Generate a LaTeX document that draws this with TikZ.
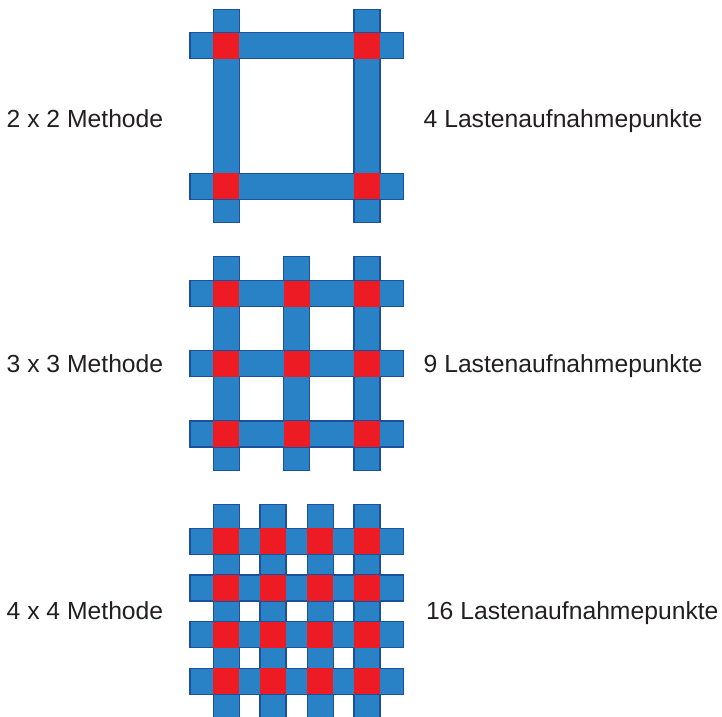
\documentclass[tikz,border=0pt]{standalone}
\usepackage{fontspec}
\setmainfont{Liberation Sans}
\definecolor{barblue}{HTML}{2981C6}
\definecolor{baredge}{HTML}{1C4F9E}
\definecolor{pointred}{HTML}{ED1C24}
\definecolor{textgray}{HTML}{231F20}
\tikzset{
  bar/.style={fill=barblue, draw=baredge, line width=1.1pt},
  loadpt/.style={fill=pointred},
  caption/.style={anchor=base west, inner sep=0pt, text=textgray,
    font=\fontsize{24.7}{28}\selectfont},
}
% #1: x centres of the vertical bars, #2: y centres of the horizontal bars,
% #3/#4: top and bottom ends of the vertical bars
\newcommand\loadgrid[4]{%
  \foreach \gx in {#1} \draw[bar] (\gx-13,#3) rectangle (\gx+13,#4);
  \foreach \gy in {#2} \draw[bar] (190,\gy-13) rectangle (403.3,\gy+13);
  \foreach \gx in {#1} \foreach \gy in {#2}
    \fill[loadpt] (\gx-13,\gy-13) rectangle (\gx+13,\gy+13);
}
\begin{document}
\begin{tikzpicture}[x=1pt,y=-1pt]
  \useasboundingbox (0,0) rectangle (722,716);
  \clip (0,0) rectangle (722,716);

  % 2 x 2 grid
  \loadgrid{226.3,367}{45.7,186.3}{9.3}{222.7}
  % 3 x 3 grid
  \loadgrid{226.3,296.7,367}{293.7,363.7,434}{256.7}{470.7}
  % 4 x 4 grid
  \loadgrid{226.3,273,320.3,367}{541.3,588,634.7,681.3}{504.3}{717.7}

  \node[caption] (m2) at (6.5,127.7) {2 x 2 Methode};
  \node[caption] (p2) at (423.5,127.7) {4 Lastenaufnahmepunkte};
  \node[caption] (m3) at (6.5,372.7) {3 x 3 Methode};
  \node[caption] (p3) at (423.5,372.7) {9 Lastenaufnahmepunkte};
  \node[caption] (m4) at (6.5,619.5) {4 x 4 Methode};
  \node[caption] (p4) at (425.8,619.5) {16 Lastenaufnahmepunkte};
\end{tikzpicture}
\end{document}
